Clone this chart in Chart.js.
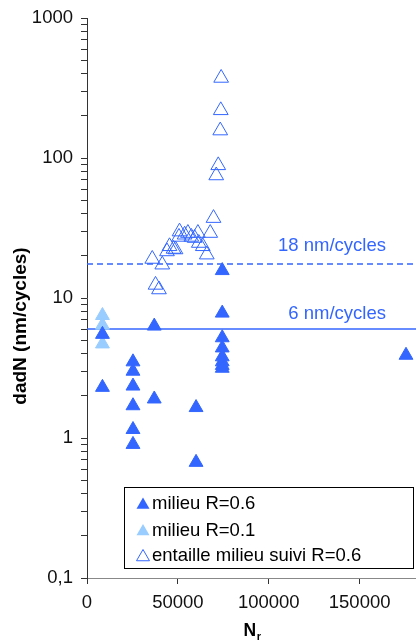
<!DOCTYPE html>
<html>
<head>
<meta charset="utf-8">
<script src="https://cdn.jsdelivr.net/npm/chart.js@4/dist/chart.umd.min.js"></script>
<style>
  html, body { margin: 0; padding: 0; background: #fff; }
  #wrap { position: relative; width: 416px; height: 642px; }
</style>
</head>
<body>
<div id="wrap"><canvas id="chart"></canvas></div>
<script>
// series names as in the legend
const seriesNames = ['milieu R=0.6', 'milieu R=0.1', 'entaille milieu suivi R=0.6'];

// milieu R=0.6 (filled dark triangles)
const milieu06X = [8500, 8500, 25300, 25300, 25300, 25300, 25300, 25300, 37000, 37000, 60000, 60000,
  74400, 74400, 74400, 74400, 74400, 74400, 74400, 74400, 175500];
const milieu06Y = [5.5, 2.3, 3.5, 3.0, 2.35, 1.7, 1.15, 0.9, 6.3, 1.9, 1.65, 0.67,
  15.7, 7.8, 5.2, 4.4, 3.8, 3.5, 3.3, 3.15, 3.9];

// milieu R=0.1 (filled light triangles)
const milieu01X = [8500, 8500, 8500];
const milieu01Y = [7.5, 6.4, 4.7];

// entaille milieu suivi R=0.6 (open triangles)
const entailleX = [35900, 41400, 37700, 39600, 44000, 45400, 47600, 48700, 50900, 50600, 53700, 55500,
  57400, 59200, 61000, 61500, 63700, 65900, 67800, 69600, 71100, 72200, 73300, 73600, 73800];
const entailleY = [19.0, 17.3, 12.4, 11.5, 21.5, 23.4, 22.4, 22.2, 29.8, 27.3, 28.3, 29.1,
  27.3, 26.8, 29.1, 24.7, 23.4, 20.4, 29.1, 37.2, 75, 88.6, 157, 219, 373];

// horizontal reference levels
const guideLevels = [17.5, 6];
const guideLabels = ['18 nm/cycles', '6 nm/cycles'];

// axes
const xTicks = [0, 50000, 100000, 150000];
const yTickValues = [0.1, 1, 10, 100, 1000];
const yTickLabels = ['0,1', '1', '10', '100', '1000'];

const BLUE = '#3366ff';
const LIGHT = '#99ccff';
const FONT = "'Liberation Sans', Arial, sans-serif";

const pts = (xs, ys) => xs.map((x, i) => ({ x, y: ys[i] }));

function tri(ctx, x, y, r, fill, stroke) {
  ctx.beginPath();
  ctx.moveTo(x, y - r);
  ctx.lineTo(x + r * 0.866, y + r / 2);
  ctx.lineTo(x - r * 0.866, y + r / 2);
  ctx.closePath();
  if (fill) { ctx.fillStyle = fill; ctx.fill(); }
  if (stroke) { ctx.strokeStyle = stroke; ctx.lineWidth = 1; ctx.stroke(); }
}

const overlay = {
  id: 'overlay',
  afterDraw(chart) {
    const { ctx, chartArea: ca, scales } = chart;
    ctx.save();

    // guide labels
    ctx.fillStyle = BLUE;
    ctx.font = '18.5px ' + FONT;
    ctx.textAlign = 'right';
    ctx.textBaseline = 'middle';
    const lift = [18, 15];
    guideLevels.forEach((v, i) => {
      const py = scales.y.getPixelForValue(v);
      ctx.fillText(guideLabels[i], ca.right - 30, py - lift[i]);
    });

    // y title
    ctx.fillStyle = '#000';
    ctx.font = 'bold 19px ' + FONT;
    ctx.textAlign = 'center';
    ctx.translate(21, (ca.top + ca.bottom) / 2 + 28);
    ctx.rotate(-Math.PI / 2);
    ctx.fillText('dadN (nm/cycles)', 0, 0);
    ctx.setTransform(1, 0, 0, 1, 0, 0);

    // x title with subscript
    const cx = (ca.left + ca.right) / 2;
    ctx.font = 'bold 17.5px ' + FONT;
    ctx.textAlign = 'left';
    ctx.textBaseline = 'alphabetic';
    const wN = ctx.measureText('N').width;
    ctx.fillText('N', cx - 8, 636);
    ctx.font = 'bold 11px ' + FONT;
    ctx.fillText('r', cx - 8 + wN + 0.5, 640);

    // legend
    const bx = ca.left + 37, by = ca.bottom - 91, bw = 289, bh = 81;
    ctx.fillStyle = '#fff';
    ctx.fillRect(bx, by, bw, bh);
    ctx.strokeStyle = '#000';
    ctx.lineWidth = 1;
    ctx.strokeRect(bx + 0.5, by + 0.5, bw, bh);
    const rows = [16, 42.5, 68];
    ctx.font = '18.5px ' + FONT;
    ctx.textBaseline = 'middle';
    seriesNames.forEach((name, i) => {
      const ds = chart.data.datasets[i];
      const cy = by + rows[i];
      const open = ds.backgroundColor === 'rgba(0,0,0,0)';
      tri(ctx, bx + 19, cy + 2, 7.5, open ? null : ds.backgroundColor, open ? ds.borderColor : null);
      ctx.fillStyle = '#000';
      ctx.fillText(name, bx + 28, cy + 1);
    });
    ctx.restore();
  }
};

new Chart(document.getElementById('chart'), {
  type: 'scatter',
  data: {
    datasets: [
      { label: seriesNames[0], data: pts(milieu06X, milieu06Y), pointStyle: 'triangle', radius: 8,
        backgroundColor: BLUE, borderColor: BLUE, borderWidth: 1, order: 1 },
      { label: seriesNames[1], data: pts(milieu01X, milieu01Y), pointStyle: 'triangle', radius: 8,
        backgroundColor: LIGHT, borderColor: LIGHT, borderWidth: 1, order: 2 },
      { label: seriesNames[2], data: pts(entailleX, entailleY), pointStyle: 'triangle', radius: 8.5,
        backgroundColor: 'rgba(0,0,0,0)', borderColor: BLUE, borderWidth: 1, order: 3 },
      { label: 'guide18', data: [{ x: 0, y: guideLevels[0] }, { x: 181000, y: guideLevels[0] }],
        showLine: true, borderColor: BLUE, borderWidth: 1.6, borderDash: [6, 4], pointRadius: 0, order: 10 },
      { label: 'guide6', data: [{ x: 0, y: guideLevels[1] }, { x: 181000, y: guideLevels[1] }],
        showLine: true, borderColor: BLUE, borderWidth: 1.6, pointRadius: 0, order: 10 }
    ]
  },
  options: {
    responsive: true,
    maintainAspectRatio: false,
    animation: false,
    layout: { autoPadding: false, padding: { top: 18, right: 0, bottom: 0, left: 0 } },
    plugins: { legend: { display: false }, tooltip: { enabled: false } },
    scales: {
      x: {
        type: 'linear', min: 0, max: 181000,
        afterBuildTicks: s => { s.ticks = xTicks.map(v => ({ value: v })); },
        afterFit: s => { s.height = 64; s.paddingRight = 0; s.paddingLeft = 0; },
        ticks: { callback: v => String(v), color: '#111', font: { family: FONT, size: 18.5 }, padding: 8, maxRotation: 0, autoSkip: false },
        grid: { drawOnChartArea: false, drawTicks: true, tickLength: 6, color: '#333' },
        border: { color: '#888', width: 1 }
      },
      y: {
        type: 'logarithmic', min: 0.1, max: 1000,
        afterBuildTicks: s => {
          const t = [];
          yTickValues.forEach((d, i) => {
            t.push({ value: d });
            if (i < yTickValues.length - 1) for (let m = 2; m <= 9; m++) t.push({ value: d * m });
          });
          s.ticks = t;
        },
        afterFit: s => { s.width = 87; s.paddingTop = 0; s.paddingBottom = 0; },
        ticks: {
          autoSkip: false, color: '#111', font: { family: FONT, size: 18.5 }, padding: 8,
          callback: v => { const k = yTickValues.indexOf(v); return k >= 0 ? yTickLabels[k] : ''; }
        },
        grid: { drawOnChartArea: false, drawTicks: true, tickLength: 6, color: '#333' },
        border: { color: '#333', width: 1 }
      }
    }
  },
  plugins: [overlay]
});
</script>
</body>
</html>
